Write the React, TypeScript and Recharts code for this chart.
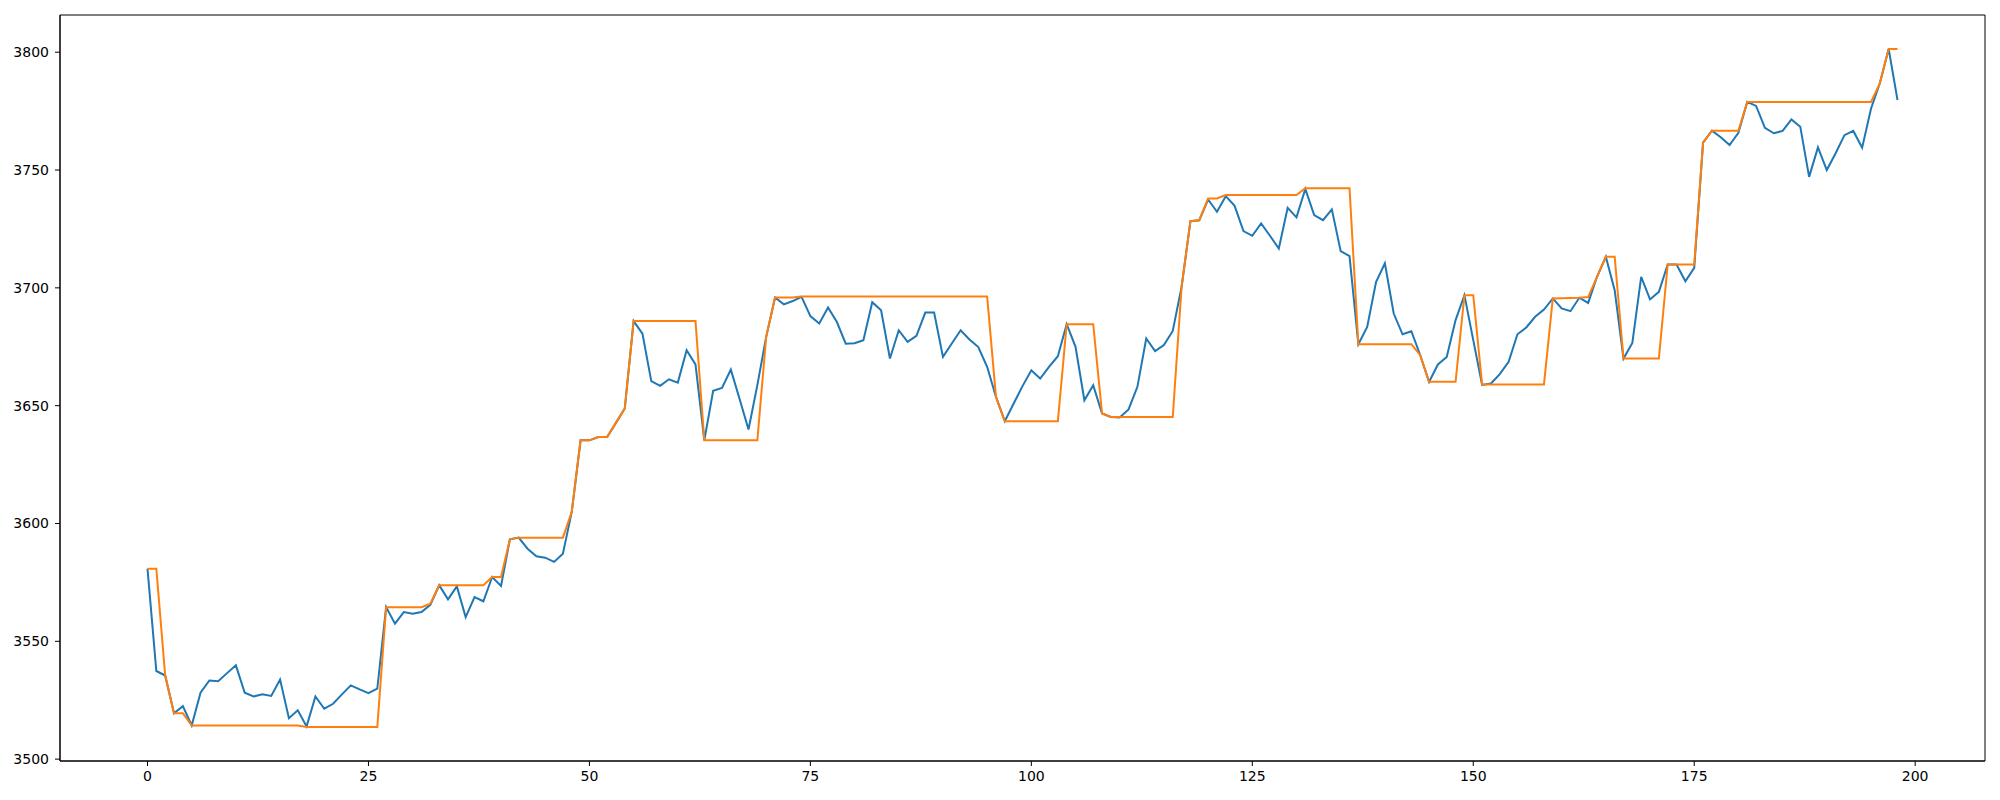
import { LineChart, Line, XAxis, YAxis, ReferenceArea } from "recharts";

// blue series (price)
const price = [
  3580.8, 3537.4, 3535.5, 3519.5, 3522.5, 3514.3, 3528.2, 3533.4, 3533.1, 3536.5,
  3539.8, 3528.2, 3526.6, 3527.5, 3526.8, 3533.8, 3517.4, 3520.7, 3513.9, 3526.6,
  3521.4, 3523.5, 3527.5, 3531.3, 3529.6, 3528.0, 3529.9, 3564.5, 3557.5, 3562.4,
  3561.7, 3562.4, 3565.5, 3573.8, 3567.8, 3573.3, 3560.3, 3568.8, 3567.0, 3577.3,
  3573.5, 3593.3, 3594.0, 3589.3, 3586.1, 3585.5, 3583.7, 3587.2, 3604.9, 3635.3,
  3635.3, 3636.7, 3636.7, 3642.7, 3648.8, 3685.9, 3680.6, 3660.4, 3658.4, 3661.2,
  3659.8, 3673.5, 3667.5, 3635.3, 3656.3, 3657.5, 3665.3, 3652.7, 3639.9, 3658.7,
  3679.2, 3695.9, 3693.0, 3694.4, 3696.2, 3688.0, 3684.9, 3691.7, 3685.5, 3676.3,
  3676.5, 3677.8, 3693.9, 3690.5, 3670.0, 3682.0, 3677.1, 3679.6, 3689.5, 3689.5,
  3670.7, 3676.4, 3682.0, 3678.1, 3674.9, 3666.5, 3653.7, 3643.4, 3650.9, 3658.3,
  3665.0, 3661.5, 3666.5, 3671.0, 3684.6, 3675.0, 3652.3, 3658.7, 3646.7, 3645.2,
  3645.0, 3648.4, 3658.0, 3678.5, 3673.2, 3675.7, 3681.7, 3700.4, 3728.3, 3728.7,
  3737.5, 3732.3, 3738.9, 3734.8, 3724.1, 3722.1, 3727.3, 3722.1, 3716.7, 3734.0,
  3729.9, 3742.0, 3730.9, 3728.7, 3733.3, 3715.6, 3713.5, 3676.1, 3683.4, 3702.5,
  3710.4, 3689.1, 3680.3, 3681.6, 3671.4, 3660.1, 3667.5, 3670.7, 3686.3, 3696.9,
  3677.8, 3658.8, 3659.4, 3663.4, 3668.6, 3680.3, 3683.2, 3687.7, 3690.8, 3695.5,
  3691.3, 3690.1, 3695.8, 3693.6, 3704.7, 3713.2, 3699.0, 3670.0, 3676.6, 3704.7,
  3695.1, 3698.3, 3709.9, 3709.9, 3702.8, 3708.5, 3761.6, 3766.7, 3763.9, 3760.6,
  3765.8, 3778.9, 3777.2, 3767.9, 3765.6, 3766.6, 3771.5, 3768.4, 3747.1, 3759.6,
  3750.0, 3757.1, 3764.8, 3766.6, 3759.5, 3776.0, 3786.8, 3801.4, 3779.7,
];

// orange series (step level)
const level = [
  3580.8, 3580.8, 3535.5, 3519.5, 3519.5, 3514.3, 3514.3, 3514.3, 3514.3, 3514.3,
  3514.3, 3514.3, 3514.3, 3514.3, 3514.3, 3514.3, 3514.3, 3514.3, 3513.6, 3513.6,
  3513.6, 3513.6, 3513.6, 3513.6, 3513.6, 3513.6, 3513.6, 3564.5, 3564.5, 3564.5,
  3564.5, 3564.5, 3566.0, 3573.8, 3573.8, 3573.8, 3573.8, 3573.8, 3573.8, 3577.3,
  3577.3, 3593.3, 3594.0, 3594.0, 3594.0, 3594.0, 3594.0, 3594.0, 3604.9, 3635.3,
  3635.3, 3636.7, 3636.7, 3642.7, 3648.8, 3685.9, 3685.9, 3685.9, 3685.9, 3685.9,
  3685.9, 3685.9, 3685.9, 3635.3, 3635.3, 3635.3, 3635.3, 3635.3, 3635.3, 3635.3,
  3679.2, 3695.9, 3695.9, 3695.9, 3696.3, 3696.3, 3696.3, 3696.3, 3696.3, 3696.3,
  3696.3, 3696.3, 3696.3, 3696.3, 3696.3, 3696.3, 3696.3, 3696.3, 3696.3, 3696.3,
  3696.3, 3696.3, 3696.3, 3696.3, 3696.3, 3696.3, 3653.7, 3643.4, 3643.4, 3643.4,
  3643.4, 3643.4, 3643.4, 3643.4, 3684.6, 3684.6, 3684.6, 3684.6, 3646.7, 3645.2,
  3645.2, 3645.2, 3645.2, 3645.2, 3645.2, 3645.2, 3645.2, 3700.4, 3728.3, 3728.7,
  3737.9, 3737.9, 3739.4, 3739.4, 3739.4, 3739.4, 3739.4, 3739.4, 3739.4, 3739.4,
  3739.4, 3742.3, 3742.3, 3742.3, 3742.3, 3742.3, 3742.3, 3676.1, 3676.1, 3676.1,
  3676.1, 3676.1, 3676.1, 3676.1, 3671.4, 3660.1, 3660.1, 3660.1, 3660.1, 3696.9,
  3696.9, 3659.0, 3659.0, 3659.0, 3659.0, 3659.0, 3659.0, 3659.0, 3659.0, 3695.5,
  3695.6, 3695.7, 3695.8, 3696.1, 3704.7, 3713.2, 3713.2, 3670.0, 3670.0, 3670.0,
  3670.0, 3670.0, 3709.9, 3709.9, 3709.9, 3709.9, 3761.6, 3766.7, 3766.7, 3766.7,
  3766.7, 3778.9, 3778.9, 3778.9, 3778.9, 3778.9, 3778.9, 3778.9, 3778.9, 3778.9,
  3778.9, 3778.9, 3778.9, 3778.9, 3778.9, 3778.9, 3786.8, 3801.4, 3801.4,
];

const xTicks = [0, 25, 50, 75, 100, 125, 150, 175, 200];
const yTicks = [3500, 3550, 3600, 3650, 3700, 3750, 3800];

const data = price.map((p, i) => ({ x: i, price: p, level: level[i] }));

// matplotlib-style 5% margins
const n = price.length - 1;
const xMin = -0.05 * n;
const xMax = n + 0.05 * n;
const lo = Math.min(...price, ...level);
const hi = Math.max(...price, ...level);
const yMin = lo - 0.05 * (hi - lo);
const yMax = hi + 0.05 * (hi - lo);

const tickStyle = { fontSize: 14, fill: "#000", fontFamily: "DejaVu Sans" };

export default function App() {
  return (
    <div style={{ position: "absolute", left: 0, top: 0, width: 2000, height: 800, background: "#fff" }}>
      <LineChart
        width={2000}
        height={800}
        data={data}
        margin={{ top: 15, right: 15, bottom: 0, left: 0 }}
      >
        <XAxis
          dataKey="x"
          type="number"
          domain={[xMin, xMax]}
          ticks={xTicks}
          allowDataOverflow
          height={39}
          tick={tickStyle}
          tickSize={5}
          tickMargin={5}
          axisLine={{ stroke: "#000" }}
          tickLine={{ stroke: "#000" }}
        />
        <YAxis
          type="number"
          domain={[yMin, yMax]}
          ticks={yTicks}
          allowDataOverflow
          width={60}
          tick={tickStyle}
          tickSize={5}
          tickMargin={6}
          axisLine={{ stroke: "#000" }}
          tickLine={{ stroke: "#000" }}
        />
        <ReferenceArea
          x1={xMin}
          x2={xMax}
          y1={yMin}
          y2={yMax}
          fill="none"
          stroke="#000"
          strokeWidth={1}
          fillOpacity={0}
        />
        <Line
          type="linear"
          dataKey="price"
          stroke="#1f77b4"
          strokeWidth={2}
          dot={false}
          isAnimationActive={false}
        />
        <Line
          type="linear"
          dataKey="level"
          stroke="#ff7f0e"
          strokeWidth={2}
          dot={false}
          isAnimationActive={false}
        />
      </LineChart>
    </div>
  );
}
